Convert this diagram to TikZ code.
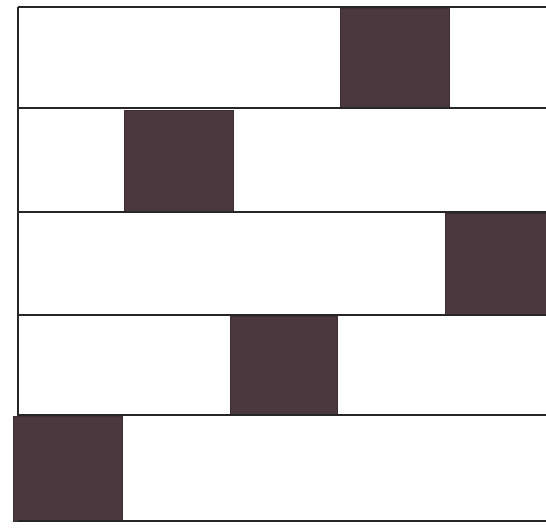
\documentclass[tikz,border=0pt]{standalone}
\usepackage{tikz}

\definecolor{tiledark}{RGB}{74,56,62}

\begin{document}
\begin{tikzpicture}[x=0.05cm,y=-0.05cm,
  rowline/.style={draw=black!85,line width=3.4pt},
  darktile/.style={fill=tiledark,draw=tiledark!80!black,line width=1pt}]
\useasboundingbox (0,0) rectangle (546,527);

% dark tiles, one per row
\draw[darktile] (340,8) rectangle (449,108);
\draw[darktile] (124,110) rectangle (233,212);
\draw[darktile] (445,213) rectangle (546,315);
\draw[darktile] (230,316) rectangle (337,415);
\draw[darktile] (13,416) rectangle (122,521);

% row boundaries
\draw[rowline] (18,7) -- (546,7);
\draw[rowline] (18,108) -- (546,108);
\draw[rowline] (18,212) -- (546,212);
\draw[rowline] (18,315) -- (546,315);
\draw[rowline] (18,415) -- (546,415);
\draw[rowline] (18,521) -- (546,521);

% left edge
\draw[rowline] (18,7) -- (18,416);
\end{tikzpicture}
\end{document}
